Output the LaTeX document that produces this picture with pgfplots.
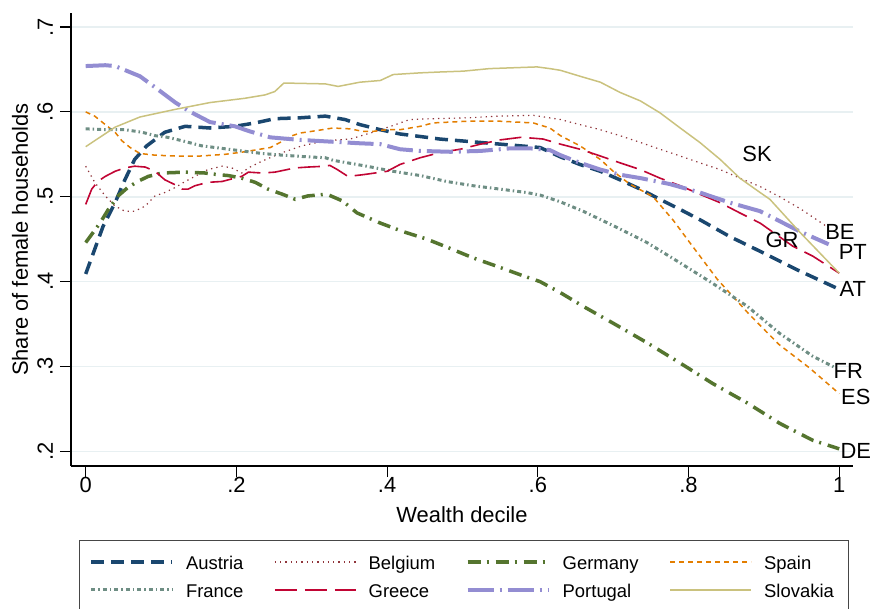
\documentclass[border=0pt]{standalone}
\usepackage{pgfplots}
\pgfplotsset{compat=1.18}
\usepackage{fontspec}
\setmainfont{Liberation Sans}
\definecolor{cnavy}{RGB}{26,71,111}
\definecolor{cmaroon}{RGB}{144,53,59}
\definecolor{cgreen}{RGB}{85,117,47}
\definecolor{corange}{RGB}{227,126,0}
\definecolor{cteal}{RGB}{110,142,132}
\definecolor{ccran}{RGB}{193,5,52}
\definecolor{clav}{RGB}{147,141,210}
\definecolor{ckhaki}{RGB}{202,194,126}
\definecolor{gridc}{RGB}{232,240,242}
\definecolor{legframe}{RGB}{70,70,70}
\tikzset{
  austria/.style={color=cnavy, line width=3.5bp, dash pattern=on 13bp off 7bp},
  belgium/.style={color=cmaroon, line width=1.2bp, dash pattern=on 1.3bp off 4bp},
  germany/.style={color=cgreen, line width=3.5bp, dash pattern=on 13bp off 6bp on 2bp off 7bp},
  spain/.style={color=corange, line width=1.5bp, dash pattern=on 5bp off 4bp},
  france/.style={color=cteal, line width=3bp, dash pattern=on 4bp off 3bp on 1.5bp off 3bp},
  greece/.style={color=ccran, line width=1.6bp, dash pattern=on 22bp off 8bp},
  portugal/.style={color=clav, line width=4bp, dash pattern=on 26bp off 6bp on 2bp off 6bp},
  slovakia/.style={color=ckhaki, line width=1.5bp},
}
\newcommand{\lf}{\fontsize{22}{26}\selectfont}
\begin{document}
\begin{tikzpicture}
\begin{axis}[
  at={(0,0)}, anchor=south west,
  scale only axis, width=782bp, height=453bp,
  xmin=-0.0195, xmax=1.0183, ymin=0.18276, ymax=0.71653,
  axis x line*=bottom, axis y line*=left,
  axis line style={line width=1.2bp, black},
  tick align=outside, major tick length=11bp,
  every tick/.style={line width=1.2bp, black},
  xtick={0,0.2,0.4,0.6,0.8,1}, xticklabels={0,.2,.4,.6,.8,1},
  ytick={0.2,0.3,0.4,0.5,0.6,0.7}, yticklabels={.2,.3,.4,.5,.6,.7},
  minor tick num=0,
  ymajorgrids, major grid style={line width=1.5bp, color=gridc},
  font=\lf,
  ticklabel style={font=\lf},
  /pgf/number format/assume math mode=true,
  xticklabel style={anchor=north, inner sep=0pt},
  yticklabel style={rotate=90, anchor=south, inner sep=0pt},
  yticklabel shift=7bp,
  xlabel={Wealth decile}, ylabel={Share of female households},
  xlabel style={at={([yshift=-49bp]axis description cs:0.5,0)}, anchor=center, font=\lf},
  ylabel style={at={([xshift=-51bp]axis description cs:0,0.5)}, anchor=center, font=\lf},
  clip=false,
  legend columns=4,
  legend cell align=left,
  legend style={at={([xshift=8bp,yshift=-74bp]axis description cs:0,0)}, anchor=north west,
    draw=legframe, line width=1.2bp, inner xsep=10bp, inner ysep=15.5bp,
    font=\fontsize{18.5}{22}\selectfont, column sep=0pt, row sep=13bp,
    nodes={inner sep=0pt}},
  legend image code/.code={\draw[#1] (0bp,1.5bp) -- (81bp,1.5bp);},
]
\addplot[austria] coordinates {(0,.409)(.023,.465)(.039,.493)(.052,.520)(.065,.544)(.081,.560)(.105,.576)(.132,.583)(.165,.581)(.198,.583)(.225,.587)(.251,.592)(.284,.593)(.318,.595)(.344,.591)(.364,.585)(.391,.579)(.417,.574)(.444,.571)(.470,.568)(.510,.565)(.550,.562)(.590,.559)(.603,.558)(.630,.547)(.656,.538)(.683,.530)(.709,.520)(.736,.509)(.762,.497)(.789,.485)(.815,.473)(.855,.453)(.899,.434)(.944,.414)(1,.391)};
\addlegendentry{\hspace{12bp}\makebox[88bp][l]{\rule{0pt}{13bp}Austria}}
\addplot[belgium] coordinates {(0,.536)(.012,.517)(.026,.501)(.039,.489)(.052,.483)(.065,.483)(.079,.489)(.092,.501)(.105,.505)(.119,.511)(.132,.518)(.145,.524)(.162,.532)(.181,.536)(.194,.534)(.207,.528)(.216,.534)(.234,.542)(.261,.552)(.287,.560)(.318,.566)(.351,.568)(.381,.576)(.408,.584)(.430,.591)(.461,.592)(.506,.593)(.550,.595)(.594,.596)(.630,.591)(.656,.585)(.683,.579)(.709,.572)(.736,.564)(.762,.556)(.789,.548)(.815,.540)(.842,.532)(.868,.522)(.895,.512)(.921,.500)(.950,.485)(.985,.464)};
\addlegendentry{\hspace{12bp}\makebox[97bp][l]{\rule{0pt}{13bp}Belgium}}
\addplot[germany] coordinates {(0,.446)(.019,.469)(.030,.485)(.043,.501)(.056,.511)(.069,.518)(.083,.524)(.101,.528)(.132,.529)(.158,.528)(.176,.526)(.189,.525)(.207,.522)(.225,.517)(.242,.509)(.261,.503)(.278,.497)(.295,.501)(.307,.502)(.320,.503)(.341,.495)(.360,.481)(.391,.469)(.421,.459)(.453,.450)(.484,.439)(.514,.428)(.546,.418)(.577,.408)(.603,.400)(.630,.387)(.660,.371)(.700,.351)(.745,.328)(.789,.304)(.832,.280)(.878,.257)(.921,.233)(.965,.213)(1,.203)};
\addlegendentry{\hspace{12bp}\makebox[107bp][l]{\rule{0pt}{13bp}Germany}}
\addplot[spain] coordinates {(0,.600)(.012,.595)(.026,.585)(.039,.576)(.048,.566)(.059,.558)(.072,.551)(.092,.549)(.119,.548)(.152,.548)(.185,.550)(.211,.553)(.231,.556)(.245,.558)(.258,.564)(.271,.571)(.284,.575)(.307,.578)(.328,.581)(.351,.580)(.368,.577)(.381,.577)(.400,.579)(.417,.579)(.444,.583)(.461,.587)(.484,.588)(.506,.589)(.550,.589)(.594,.587)(.616,.581)(.630,.572)(.656,.560)(.683,.544)(.700,.530)(.722,.515)(.753,.500)(.780,.472)(.800,.448)(.838,.403)(.880,.362)(.920,.326)(.961,.298)(1,.268)};
\addlegendentry{\hspace{12bp}\makebox[74bp][l]{\rule{0pt}{13bp}Spain}}
\addplot[france] coordinates {(0,.580)(.030,.579)(.052,.579)(.075,.576)(.092,.572)(.109,.570)(.128,.566)(.154,.560)(.181,.557)(.207,.554)(.234,.551)(.261,.549)(.295,.547)(.318,.546)(.328,.543)(.373,.536)(.408,.530)(.444,.525)(.479,.518)(.514,.513)(.550,.509)(.585,.505)(.603,.502)(.630,.494)(.660,.483)(.700,.466)(.745,.446)(.789,.422)(.832,.398)(.878,.371)(.921,.339)(.965,.312)(.994,.299)};
\addlegendentry{\hspace{12bp}\makebox[88bp][l]{\rule{0pt}{13bp}France}}
\addplot[greece] coordinates {(0,.491)(.008,.509)(.016,.518)(.026,.524)(.039,.530)(.052,.534)(.065,.536)(.079,.535)(.092,.530)(.105,.520)(.119,.514)(.128,.509)(.136,.509)(.145,.513)(.162,.517)(.181,.518)(.198,.522)(.207,.524)(.216,.529)(.234,.528)(.251,.529)(.278,.534)(.295,.535)(.318,.536)(.324,.537)(.334,.532)(.348,.524)(.368,.526)(.400,.530)(.417,.538)(.444,.546)(.470,.552)(.497,.556)(.524,.562)(.550,.567)(.577,.570)(.594,.569)(.607,.568)(.630,.562)(.656,.556)(.683,.548)(.709,.540)(.736,.532)(.762,.522)(.789,.513)(.815,.503)(.842,.493)(.868,.481)(.895,.469)(.938,.442)(.965,.430)(1,.410)};
\addlegendentry{\hspace{12bp}\makebox[97bp][l]{\rule{0pt}{13bp}Greece}}
\addplot[portugal] coordinates {(0,.654)(.026,.655)(.039,.654)(.072,.642)(.092,.629)(.119,.611)(.139,.600)(.165,.588)(.198,.583)(.218,.577)(.245,.570)(.284,.567)(.324,.565)(.364,.563)(.391,.562)(.417,.556)(.444,.554)(.484,.553)(.524,.554)(.563,.557)(.590,.557)(.616,.555)(.630,.549)(.656,.540)(.683,.532)(.709,.526)(.736,.522)(.775,.515)(.815,.505)(.855,.493)(.895,.483)(.948,.459)(.986,.444)};
\addlegendentry{\hspace{12bp}\makebox[107bp][l]{\rule{0pt}{13bp}Portugal}}
\addplot[slovakia] coordinates {(0,.559)(.039,.582)(.072,.594)(.119,.603)(.165,.611)(.211,.616)(.238,.620)(.251,.624)(.263,.634)(.318,.633)(.335,.630)(.364,.635)(.391,.637)(.408,.644)(.444,.646)(.470,.647)(.501,.648)(.536,.651)(.599,.653)(.616,.651)(.630,.649)(.656,.642)(.683,.635)(.709,.623)(.736,.613)(.762,.599)(.789,.581)(.815,.564)(.842,.544)(.868,.522)(.895,.505)(.908,.497)(.948,.458)(1,.410)};
\addlegendentry{\hspace{12bp}\makebox[74bp][l]{\rule{0pt}{13bp}Slovakia}}
\node[font=\lf] at (axis cs:0.891,0.550) {SK};
\node[font=\lf] at (axis cs:1.001,0.459) {BE};
\node[font=\lf] at (axis cs:0.924,0.449) {GR};
\node[font=\lf] at (axis cs:1.018,0.435) {PT};
\node[font=\lf] at (axis cs:1.018,0.391) {AT};
\node[font=\lf] at (axis cs:1.012,0.295) {FR};
\node[font=\lf] at (axis cs:1.022,0.264) {ES};
\node[font=\lf] at (axis cs:1.022,0.200) {DE};
\end{axis}
\pgfresetboundingbox
\path[use as bounding box] (-71bp,-143bp) rectangle (802bp,466bp);
\end{tikzpicture}
\end{document}
